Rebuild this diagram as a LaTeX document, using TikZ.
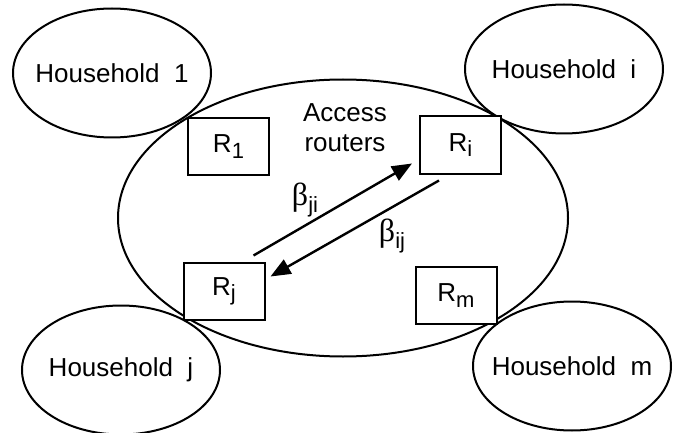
\documentclass[tikz,border=0pt]{standalone}
\usepackage{fontspec}
\setmainfont{Liberation Sans}
\newfontfamily\betafont{Liberation Serif}
\usetikzlibrary{shapes.geometric,arrows.meta,calc}
\newcommand{\lowidx}[1]{\raisebox{-0.2em}{\fontsize{22}{24}\selectfont #1}}
\begin{document}
\begin{tikzpicture}[x=1pt, y=-1pt, every node/.style={font=\fontsize{26}{30}\selectfont}, house/.style={ellipse, draw, line width=2pt, minimum width=198pt, minimum height=129pt, inner sep=0pt, label={center:#1}}, router/.style={rectangle, draw, fill=white, line width=2pt, minimum width=81pt, minimum height=57pt, inner sep=0pt}, link/.style={-{Triangle[length=20pt,width=16pt]}, line width=2.4pt}, rate/.style={font=\fontsize{32}{34}\selectfont\betafont}]
\useasboundingbox (0,0) rectangle (696,433);
\node[ellipse, draw, line width=2pt, minimum width=450pt, minimum height=277pt] (core) at (343,218) {};
\node[house={Household~~1}] (h1) at (112,73) {};
\node[house={Household~~i}] (hi) at (564,69) {};
\node[house={Household~~j}] (hj) at (121,370) {};
\node[house={Household~~m}] (hm) at (572,366) {};
\node[router] (r1) at (228.5,146.5) {R\lowidx{1}};
\node[router] (ri) at (460.5,145) {R\lowidx{i}};
\node[router] (rj) at (224,291) {R\lowidx{j}};
\node[router] (rm) at (456,295.5) {R\lowidx{m}};
\node[align=center] (acc) at (345,128) {Access\\routers};
\draw[link] ($(rj.north east)+(-12,-6)$) -- ($(ri.south west)+(-7,-11)$);
\draw[link] ($(ri.south west)+(20,6)$) -- ($(rj.north east)+(5,15)$);
\node[rate] (bji) at (305,200) {β\lowidx{\rmfamily ji}};
\node[rate] (bij) at (392,236) {β\lowidx{\rmfamily ij}};
\end{tikzpicture}
\end{document}
